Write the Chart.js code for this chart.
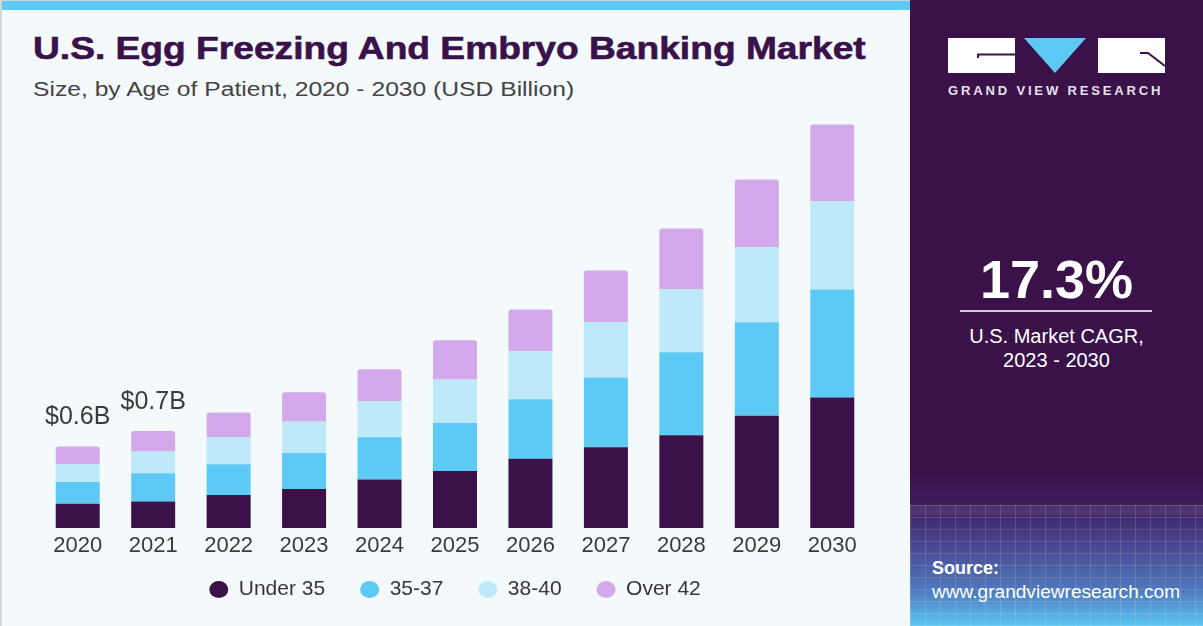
<!DOCTYPE html>
<html>
<head>
<meta charset="utf-8">
<script src="https://cdn.jsdelivr.net/npm/chart.js@4.4.1/dist/chart.umd.min.js"></script>
<style>
html, body { margin: 0; padding: 0; width: 1203px; height: 626px; overflow: hidden; font-family: "Liberation Sans", Arial, sans-serif; }
#left { position: absolute; left: 0; top: 0; width: 910px; height: 626px; background: #f4f9fc; border-left: 2px solid #d3d6da; border-top: 1px solid #d3d6da; box-sizing: border-box; }
#strip { position: absolute; left: 2px; top: 1px; width: 908px; height: 9px; background: #5ccaf6; }
#title { position: absolute; left: 33px; top: 31px; font-size: 31px; font-weight: bold; color: #3a1149; white-space: nowrap; transform-origin: 0 0; -webkit-text-stroke: 0.6px #3a1149; }
#sub { position: absolute; left: 33px; top: 78px; font-size: 20px; color: #444; white-space: nowrap; transform-origin: 0 0; }
#chartBox { position: absolute; left: 0; top: 0; width: 910px; height: 626px; }
#right { position: absolute; left: 910px; top: 0; width: 293px; height: 626px;
  background: linear-gradient(to bottom, #3a1149 0px, #3a1149 470px, #3c1b59 500px, #474289 540px, #4f78bd 590px, #5cc6f2 626px); overflow: hidden; }
#mesh { position: absolute; left: 0; top: 505px; width: 293px; height: 121px;
  background:
    repeating-linear-gradient(90deg, rgba(255,255,255,0.13) 0 1px, transparent 1px 15px),
    repeating-linear-gradient(0deg, rgba(255,255,255,0.13) 0 1px, transparent 1px 12px); }
#band { position: absolute; left: 0; top: 505px; width: 293px; height: 10px; background: rgba(255,255,255,0.08); }
#logo { position: absolute; left: 38px; top: 38px; }
#brand { position: absolute; left: 38px; top: 83px; font-size: 13px; font-weight: bold; color: #e6e2ea; white-space: nowrap; letter-spacing: 2.8px; transform-origin: 0 0; }
#cagr { position: absolute; left: 0; width: 293px; top: 252px; line-height: 54px; font-size: 54px; font-weight: bold; color: #fff; text-align: center; }
#rule { position: absolute; left: 50px; top: 310px; width: 192px; height: 2px; background: #cfc6d6; }
#cagrTxt { position: absolute; left: 0; width: 293px; top: 324px; line-height: 24px; font-size: 20px; color: #fff; text-align: center; }
#src { position: absolute; left: 22px; top: 556px; font-size: 18px; color: #fff; line-height: 24px; white-space: nowrap; }
#src b { display: block; }
#url { display: inline-block; transform-origin: 0 0; }
</style>
</head>
<body>
<div id="left"></div>
<div id="strip"></div>
<div id="title">U.S. Egg Freezing And Embryo Banking Market</div>
<div id="sub">Size, by Age of Patient, 2020 - 2030 (USD Billion)</div>
<div id="chartBox"><canvas id="chart"></canvas></div>
<div id="right">
  <div id="band"></div>
  <div id="mesh"></div>
  <svg id="logo" width="220" height="36" viewBox="0 0 220 36">
    <rect x="0" y="0" width="67" height="35" fill="#ffffff"/>
    <path d="M30 20 V16.5 H67" stroke="#3a1149" stroke-width="2" fill="none"/>
    <polygon points="76,0 138,0 107,35" fill="#5ccaf5"/>
    <rect x="150" y="0" width="67" height="35" fill="#ffffff"/>
    <path d="M192 15 H200 L217 28" stroke="#3a1149" stroke-width="2" fill="none"/>
  </svg>
  <div id="brand">GRAND VIEW RESEARCH</div>
  <div id="cagr">17.3%</div>
  <div id="rule"></div>
  <div id="cagrTxt">U.S. Market CAGR,<br>2023 - 2030</div>
  <div id="src"><b>Source:</b><span id="url">www.grandviewresearch.com</span></div>
</div>

<script>
// data (USD Billion)
var years = ['2020', '2021', '2022', '2023', '2024', '2025', '2026', '2027', '2028', '2029', '2030'];
var under35 = [0.179, 0.194, 0.243, 0.287, 0.356, 0.419, 0.510, 0.593, 0.682, 0.826, 0.959];
var age35to37 = [0.159, 0.208, 0.226, 0.265, 0.311, 0.353, 0.436, 0.513, 0.610, 0.686, 0.794];
var age38to40 = [0.130, 0.160, 0.201, 0.231, 0.267, 0.319, 0.353, 0.409, 0.465, 0.554, 0.651];
var over42 = [0.132, 0.151, 0.179, 0.215, 0.233, 0.289, 0.307, 0.378, 0.446, 0.496, 0.562];
var totalLabels = ['$0.6B', '$0.7B', '', '', '', '', '', '', '', '', ''];

// squeeze/stretch a text line to the width it has in the picture
function fitWidth(id, w) {
   var el = document.getElementById(id);
   el.style.transform = 'scaleX(' + (w / el.offsetWidth) + ')';
}
fitWidth('title', 833);
fitWidth('sub', 541);
fitWidth('brand', 215);
fitWidth('url', 248);

var totalsPlugin = {
   id: 'totals',
   // x axis is squeezed so the legend sits close; give its labels room to draw
   afterLayout: function (chart) {
      var x = chart.scales.x;
      x.bottom = x.top + 40;
   },
   afterDatasetsDraw: function (chart) {
      var ctx = chart.ctx;
      var meta = chart.getDatasetMeta(chart.data.datasets.length - 1);
      ctx.save();
      ctx.font = '25px "Liberation Sans", Arial, sans-serif';
      ctx.fillStyle = '#3b3b3b';
      ctx.textAlign = 'center';
      ctx.textBaseline = 'middle';
      meta.data.forEach(function (bar, i) {
         if (totalLabels[i]) {
            ctx.fillText(totalLabels[i], bar.x, bar.y - 29);
         }
      });
      ctx.restore();
   }
};

window.onload = function () {
   var ctx = document.getElementById('chart').getContext('2d');
   window.myBar = new Chart(ctx, {
      type: 'bar',
      data: {
         labels: years,
         datasets: [{
            label: 'Under 35',
            data: under35,
            backgroundColor: '#3a1149'
         }, {
            label: '35-37',
            data: age35to37,
            backgroundColor: '#5ccaf5'
         }, {
            label: '38-40',
            data: age38to40,
            backgroundColor: '#bde9f9'
         }, {
            label: 'Over 42',
            data: over42,
            backgroundColor: '#d4a9ec',
            borderRadius: { topLeft: 3, topRight: 3 },
            borderSkipped: false
         }]
      },
      options: {
         responsive: true,
         maintainAspectRatio: false,
         animation: false,
         categoryPercentage: 1,
         barPercentage: 0.583,
         layout: {
            padding: { top: 120, left: 40, right: 40, bottom: 16 }
         },
         scales: {
            x: {
               stacked: true,
               grid: { display: false, drawTicks: false },
               border: { display: false },
               ticks: {
                  padding: 5,
                  color: '#3a3a3a',
                  font: { size: 22, family: '"Liberation Sans", Arial, sans-serif' }
               },
               afterFit: function (scale) { scale.height = 16; }
            },
            y: {
               stacked: true,
               display: false,
               min: 0,
               max: 3.0
            }
         },
         plugins: {
            legend: {
               position: 'bottom',
               labels: {
                  usePointStyle: true,
                  pointStyle: 'circle',
                  pointStyleWidth: 19,
                  boxHeight: 12,
                  padding: 35,
                  color: '#3b3340',
                  font: { size: 21, family: '"Liberation Sans", Arial, sans-serif' }
               }
            },
            tooltip: { enabled: false }
         }
      },
      plugins: [totalsPlugin]
   });
};
</script>
</body>
</html>
